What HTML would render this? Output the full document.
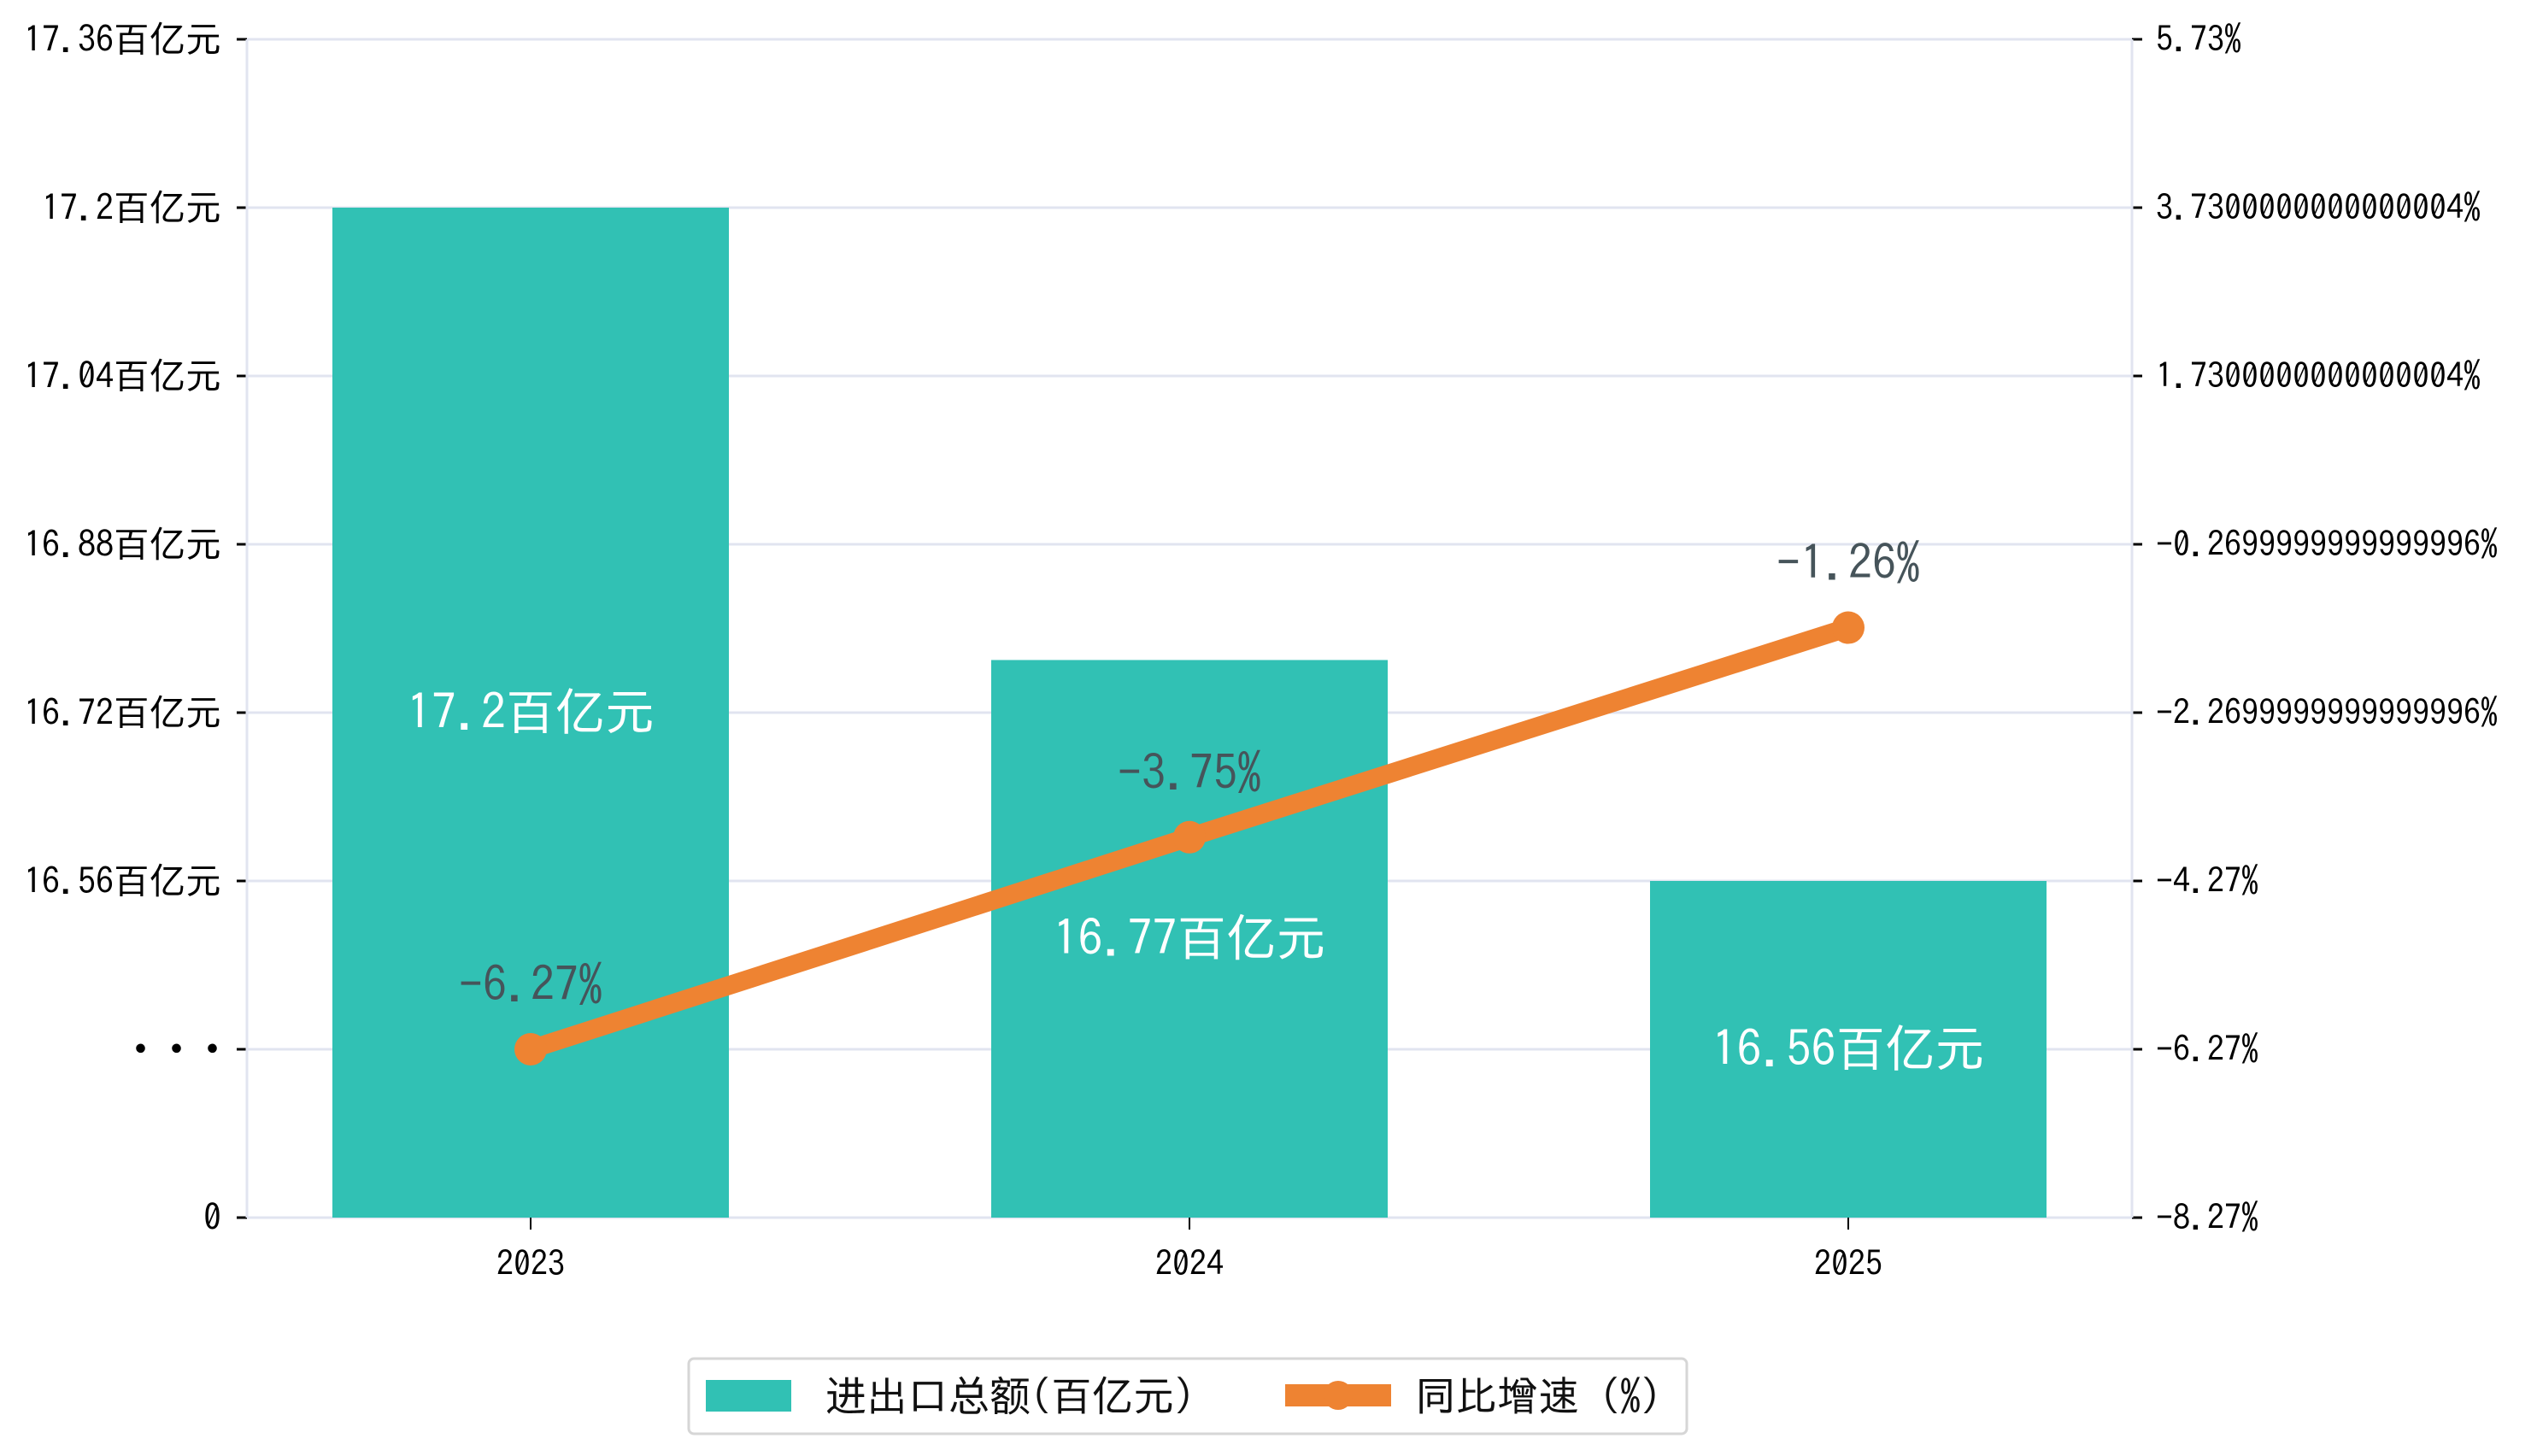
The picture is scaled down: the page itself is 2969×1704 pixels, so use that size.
<!DOCTYPE html>
<html><head><meta charset="utf-8">
<style>
html,body{margin:0;padding:0;background:#fff;}
svg{display:block;}
text{font-family:"IPAGothic","Noto Sans CJK JP",sans-serif;}
</style></head>
<body>
<svg id="chart" width="2969" height="1704" viewBox="0 0 2969 1704" xmlns="http://www.w3.org/2000/svg">
<rect width="2969" height="1704" fill="#fff"/>
<g id="grid"></g><g id="bars"></g><g id="line"></g><g id="axes"></g><g id="labels"></g>
<g>
  <rect x="806" y="1590" width="1168" height="88" rx="6" fill="#fff" stroke="#d6d6d6" stroke-width="3"/>
  <rect x="826" y="1615" width="100" height="37" fill="#31c1b4"/>
  <text x="966" y="1651" font-size="48" fill="#111">进出口总额(百亿元)</text>
  <line x1="1504" y1="1633" x2="1628" y2="1633" stroke="#ee8332" stroke-width="26"/>
  <circle cx="1566" cy="1633" r="17" fill="#ee8332"/>
  <text x="1656" y="1651" font-size="48" fill="#111">同比增速 (%)</text>
</g>
</svg>
<script>
const categories = ["2023","2024","2025"];
const barValues = [17.2, 16.77, 16.56];
const growthValues = [-6.27, -3.75, -1.26];
const leftTicks = [17.36, 17.2, 17.04, 16.88, 16.72, 16.56, 16.4, 0];
const leftTickLabels = ["17.36百亿元","17.2百亿元","17.04百亿元","16.88百亿元","16.72百亿元","16.56百亿元","• • •","0"];
const rightTicks = [5.73, 3.73, 1.73, -0.27, -2.27, -4.27, -6.27, -8.27];
const rightTickLabels = ["5.73%","3.7300000000000004%","1.7300000000000004%","−0.2699999999999996%","−2.2699999999999996%","−4.27%","−6.27%","−8.27%"];

const NS = "http://www.w3.org/2000/svg";
const L = 289, R = 2495, T = 46, B = 1425;
const step = (B - T) / 7;
function yLeft(v){
  if (v >= 16.4) return T + (17.36 - v) / 0.16 * step;
  return T + 6*step + (16.4 - v) / 16.4 * step;
}
function yRight(v){ return T + (5.73 - v) / 2 * step; }
const firstCenter = 621, spacing = 771;
function xCat(i){ return firstCenter + spacing * i; }
const barW = 464;
function mk(tag, attrs, parent){
  const e = document.createElementNS(NS, tag);
  for (const k in attrs) e.setAttribute(k, attrs[k]);
  document.getElementById(parent).appendChild(e);
  return e;
}
leftTicks.forEach((v,i)=>{
  const y = yLeft(v);
  const g = mk("line",{x1:L,x2:R,y1:y,y2:y,stroke:"#e1e4f0","stroke-width":3},"grid");
  
  
  mk("line",{x1:L-12,x2:L,y1:y,y2:y,stroke:"#000","stroke-width":3},"axes");
  const t = mk("text",{x:L-30,y:y+15,"text-anchor":"end","font-size":42,fill:"#000","font-weight":i==6?"bold":"normal"},"axes");
  t.textContent = leftTickLabels[i];
  
  
});
rightTicks.forEach((v,i)=>{
  const y = yRight(v);
  mk("line",{x1:R,x2:R+12,y1:y,y2:y,stroke:"#000","stroke-width":3},"axes");
  const t = mk("text",{x:R+28,y:y+14,"font-size":40,fill:"#000"},"axes");
  t.textContent = rightTickLabels[i];
  
  
});
mk("line",{x1:L,x2:L,y1:T,y2:B,stroke:"#e1e4f0","stroke-width":3},"axes");
mk("line",{x1:R,x2:R,y1:T,y2:B,stroke:"#e1e4f0","stroke-width":3},"axes");
barValues.forEach((v,i)=>{
  const x = xCat(i), y = yLeft(v);
  const b = mk("rect",{x:x-barW/2,y:y,width:barW,height:B-y,fill:"#31c1b4"},"bars");
  
  
  const t = mk("text",{x:x,y:(y+B)/2+20,"text-anchor":"middle","font-size":58,fill:"#fff"},"labels");
  t.textContent = v + "百亿元";
  
  
  mk("line",{x1:x,x2:x,y1:B,y2:B+14,stroke:"#000","stroke-width":2},"axes");
  const xl = mk("text",{x:x,y:B+68,"text-anchor":"middle","font-size":40,fill:"#000"},"axes");
  xl.textContent = categories[i];
  
  
});
const pts = growthValues.map((v,i)=>[xCat(i), yRight(v)]);
const pl = mk("polyline",{points:pts.map(p=>p.join(",")).join(" "),fill:"none",stroke:"#ee8332","stroke-width":22,"stroke-linejoin":"round"},"line");


pts.forEach((p,i)=>{
  const c = mk("circle",{cx:p[0],cy:p[1],r:19,fill:"#ee8332"},"line");
  
  
  const t = mk("text",{x:p[0],y:p[1]-56,"text-anchor":"middle","font-size":56,fill:"#46545a"},"labels");
  t.textContent = growthValues[i].toFixed(2).replace("-","−") + "%";
  
  
});
</script>
</body></html>
